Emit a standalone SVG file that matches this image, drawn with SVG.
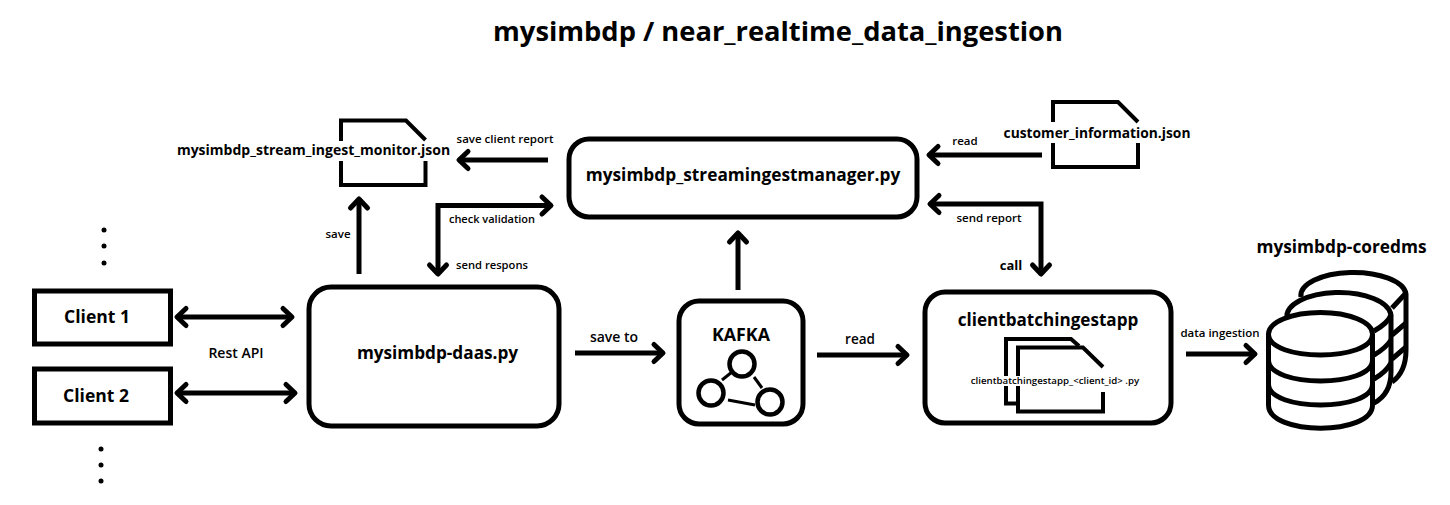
<svg xmlns="http://www.w3.org/2000/svg" width="1450" height="505" viewBox="0 0 1450 505">
<defs>
<marker id="h" markerUnits="userSpaceOnUse" viewBox="-14 -12 18 24" refX="0" refY="0" markerWidth="18" markerHeight="24" orient="auto-start-reverse" overflow="visible"><path d="M-9,-8.500 L0,0 L-9,8.500" fill="none" stroke="#000" stroke-width="5" stroke-linecap="round" stroke-linejoin="round"/></marker>
</defs>
<style>
text{font-family:"Open Sans","Noto Sans","DejaVu Sans",sans-serif;fill:#000;font-weight:600;text-anchor:middle}
.box{fill:#fff;stroke:#000;stroke-width:5}
.doc{fill:none;stroke:#000;stroke-width:4}
.c{fill:none;stroke:#000;stroke-width:5;marker-end:url(#h)}
.b{marker-start:url(#h)}
.l{font-size:11.500px}
.m{font-size:15.500px;font-weight:700}
.db{fill:#fff;stroke:#000;stroke-width:5}
.dl{fill:none;stroke:#000;stroke-width:5}
.k{fill:#fff;stroke:#000;stroke-width:4.500}
.dot{fill:#000}
</style>
<rect width="1450" height="505" fill="#fff"/>
<text id="title" x="778" y="41" font-size="27.300" style="font-weight:700">mysimbdp / near_realtime_data_ingestion</text>

<g id="connectors">
<path class="c" d="M548,160H459"/>
<path class="c" d="M359,274V199"/>
<path class="c b" d="M438,274V205.500H551"/>
<path class="c" d="M1042,155H929"/>
<path class="c b" d="M930,204H1041V274"/>
<path class="c b" d="M177,317H292"/>
<path class="c b" d="M177,393H295"/>
<path class="c" d="M575,353H663"/>
<path class="c" d="M738,290V233"/>
<path class="c" d="M817,355H907"/>
<path class="c" d="M1186,354H1255"/>
</g>

<g id="monitor-json">
<path class="doc" d="M341,141V120.500H406L425.500,140M425.500,161V185H341V161"/>
<text x="313.500" y="155" class="m" style="font-size:14px">mysimbdp_stream_ingest_monitor.json</text>
</g>
<g id="customer-json">
<path class="doc" d="M1053,122V102H1118L1138,122M1138,143V167H1053V143"/>
<text x="1097" y="138" class="m" style="font-size:13.800px">customer_information.json</text>
</g>
<g id="streamingestmanager">
<rect class="box" x="569" y="139" width="348" height="78" rx="20"/>
<text x="743" y="181" class="m" style="font-size:17.300px">mysimbdp_streamingestmanager.py</text>
</g>
<g id="client1">
<rect class="box" x="34.500" y="291" width="136" height="53"/>
<text x="97" y="323" class="m" style="font-size:17.500px">Client 1</text>
</g>
<g id="client2">
<rect class="box" x="34.500" y="369" width="136" height="54"/>
<text x="96" y="402" class="m" style="font-size:17.500px">Client 2</text>
</g>
<g id="daas">
<rect class="box" x="309" y="287" width="250" height="139" rx="22"/>
<text x="437.500" y="359" class="m" style="font-size:17.200px">mysimbdp-daas.py</text>
</g>
<g id="kafka">
<rect class="box" x="679" y="301" width="124" height="123" rx="20"/>
<text x="741" y="341" class="m" style="font-size:17.800px">KAFKA</text>
<path d="M722,380L732,372M754,377L762,388M728,400L755,405" stroke="#000" stroke-width="3" fill="none"/>
<circle class="k" cx="742" cy="364" r="12.500"/>
<circle class="k" cx="711" cy="393" r="12.500"/>
<circle class="k" cx="770" cy="402" r="12.500"/>
</g>
<g id="clientbatchingestapp">
<rect class="box" x="925" y="292" width="246" height="131" rx="20"/>
<text x="1048" y="326" class="m" style="font-size:17.100px">clientbatchingestapp</text>
<path class="doc" d="M1006,376V339H1071L1079,346M1006,386V403.500H1018"/>
<path class="doc" d="M1018,376V347.500H1083L1103,367M1103,392V411.500H1018V386"/>
<rect x="1003" y="376" width="20" height="9" fill="#fff"/>
<text x="1055" y="384" style="font-size:9.700px">clientbatchingestapp_&lt;client_id&gt; .py</text>
</g>
<g id="coredms">
<text x="1341.500" y="253" class="m" style="font-size:17.300px">mysimbdp-coredms</text>
<path class="dl" d="M1301,297A52.500,23 0 0 1 1406,294V350Q1406,372 1392,382"/>
<path class="dl" d="M1406,293L1392,308M1406,323L1392,335M1406,347L1392,359"/>
<path class="db" d="M1287,318A52,24 0 0 1 1391,315V372Q1391,394 1374,403"/>
<path class="dl" d="M1391,315Q1388,323 1374,331M1391,340Q1386,348 1374,355M1391,363Q1386,372 1374,379"/>
<path class="db" d="M1268.500,334A52,21.500 0 0 1 1372.500,334V405C1372.500,436 1268.500,436 1268.500,405Z"/>
<path class="dl" d="M1268.500,334C1268.500,362 1372.500,362 1372.500,334M1268.500,360C1268.500,388 1372.500,388 1372.500,360M1268.500,384C1268.500,412 1372.500,412 1372.500,384"/>
</g>
<g id="labels">
<text x="505" y="143" class="l">save client report</text>
<text x="338" y="238" class="l">save</text>
<text x="492" y="223" class="l" style="font-size:11px">check validation</text>
<text x="492" y="269" class="l" style="font-size:11.200px">send respons</text>
<text x="965" y="145" class="l">read</text>
<text x="989" y="222" class="l">send report</text>
<text x="1011" y="270" class="l" style="font-size:13px;font-weight:700">call</text>
<text x="236" y="358" class="l" style="font-size:14px">Rest API</text>
<text x="614" y="342" class="l" style="font-size:14px">save to</text>
<text x="860" y="344" class="l" style="font-size:13.500px">read</text>
<text x="1220" y="337" class="l">data ingestion</text>
</g>
<g id="dots" class="dot">
<circle cx="104" cy="230" r="2.500"/><circle cx="104" cy="246" r="2.500"/><circle cx="104" cy="263" r="2.500"/>
<circle cx="101" cy="449" r="2.500"/><circle cx="101" cy="465" r="2.500"/><circle cx="101" cy="481" r="2.500"/>
</g>
</svg>
